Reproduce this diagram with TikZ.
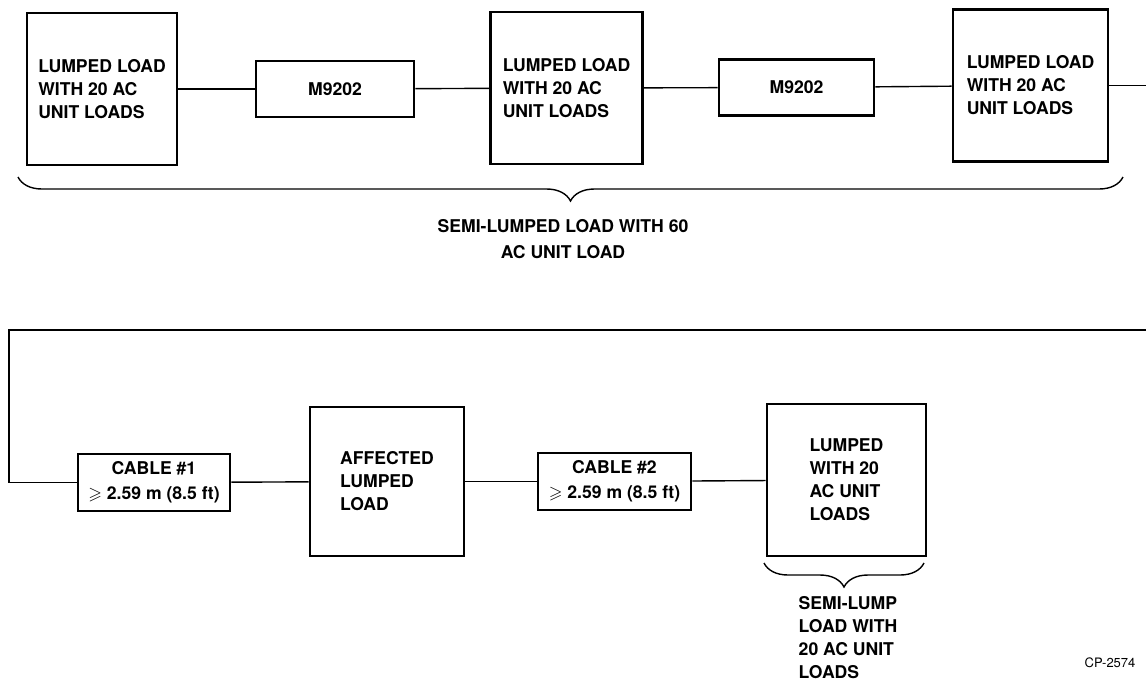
\documentclass[tikz,border=0pt]{standalone}
\usepackage{fontspec}
\setmainfont{TeX Gyre Heros}
\usepackage{amssymb}
\usetikzlibrary{math, calc, decorations.pathreplacing}

\tikzset{
    lumpbox/.style={draw, line width=1.3pt, align=left, inner sep=0pt, minimum width=76pt, minimum height=76pt},
    modbox/.style={draw, line width=1.3pt, align=center, inner sep=0pt, minimum width=78pt, minimum height=28pt},
    cablebox/.style={draw, line width=1.3pt, align=center, inner sep=0pt, minimum width=76pt, minimum height=28.5pt},
    wire/.style={line width=0.7pt},
    bracket/.style={line width=0.7pt, decorate, decoration={brace, mirror, amplitude=#1}},
}

\begin{document}
\begin{tikzpicture}[x=0.5pt, y=-0.5pt, font=\fontsize{8.8}{11.5}\selectfont\bfseries]
    \tikzmath{
        \rowtop=88;
        \rowbot=482;
        \loopy=330;
    }
    \useasboundingbox (0, 0) rectangle (1146, 682);

    % upper row
    \node [lumpbox, minimum width=75pt] (lumpA) at (102, 89) {LUMPED LOAD\\WITH 20 AC\\UNIT LOADS};
    \node [modbox, minimum width=79pt] (modA) at (335, 89) {M9202};
    \node [lumpbox] (lumpB) at (566.5, \rowtop) {LUMPED LOAD\\WITH 20 AC\\UNIT LOADS};
    \node [modbox, minimum width=77.5pt] (modB) at (796.5, 87.5) {M9202};
    \node [lumpbox, minimum width=77.5pt] (lumpC) at (1030.5, 85.5) {LUMPED LOAD\\WITH 20 AC\\UNIT LOADS};
    \coordinate (outR) at (1146, 85.5);

    \draw [wire] (lumpA) -- (modA);
    \draw [wire] (modA) -- (lumpB);
    \draw [wire] (lumpB) -- (modB);
    \draw [wire] (modB) -- (lumpC);
    \draw [wire] (lumpC) -- (outR);

    % brace under the upper row
    \draw [bracket=12pt] (18, 177) -- (1123, 177);
    \node [font=\fontsize{8.8}{13}\selectfont\bfseries, align=center] (semiA) at (563, 239) {SEMI-LUMPED LOAD WITH 60\\AC UNIT LOAD};

    % lower row
    \coordinate (inR) at (1146, \loopy);
    \coordinate (inL) at (9, \loopy);
    \node [cablebox, font=\fontsize{8.8}{12.5}\selectfont\bfseries] (cabA) at (154, 482.5) {CABLE \#1\\$\geqslant$ 2.59 m (8.5 ft)};
    \node [lumpbox, minimum width=77pt, minimum height=74.5pt] (hit) at (387, 481.5) {AFFECTED\\LUMPED\\LOAD};
    \node [cablebox, minimum width=76.5pt, font=\fontsize{8.8}{12.5}\selectfont\bfseries] (cabB) at (614.5, 481.5) {CABLE \#2\\$\geqslant$ 2.59 m (8.5 ft)};
    \node [lumpbox, minimum width=79.5pt] (lumpD) at (846.5, 480) {LUMPED\\WITH 20\\AC UNIT\\LOADS};

    \draw [wire] (inR) -- (inL) |- (cabA.west);
    \draw [wire] (cabA) -- (hit);
    \draw [wire] (hit) -- (cabB);
    \draw [wire] (cabB) -- (lumpD);

    % brace under the last box
    \draw [bracket=12pt] (764, 563) -- (924, 563);
    \node [align=left, anchor=north] (semiB) at (848, 589) {SEMI-LUMP\\LOAD WITH\\20 AC UNIT\\LOADS};

    \node [font=\fontsize{6.5}{8}\selectfont] (tag) at (1110, 663) {CP-2574};
\end{tikzpicture}
\end{document}
